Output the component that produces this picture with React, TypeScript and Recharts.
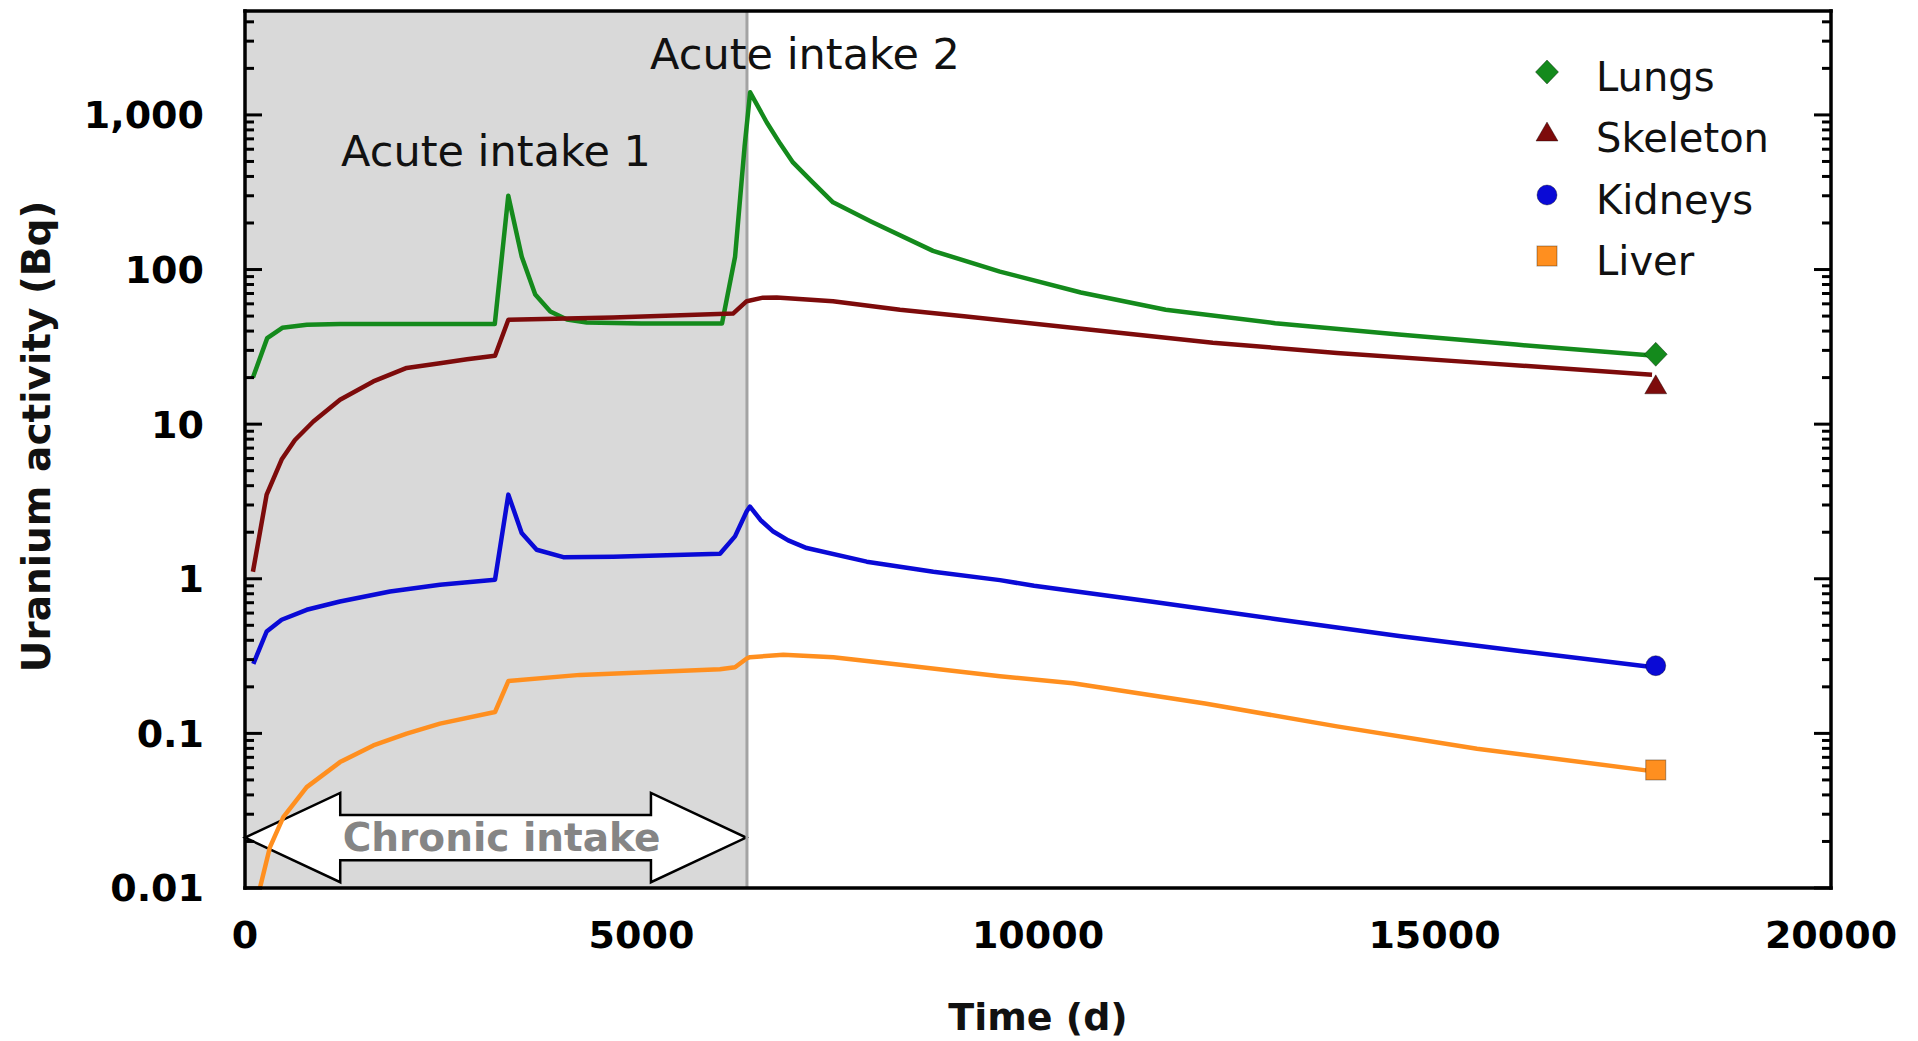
import React from 'react'
import {
  ComposedChart,
  Line,
  Scatter,
  XAxis,
  YAxis,
  ReferenceArea,
  ReferenceLine,
  ReferenceDot,
  Legend,
  Label,
} from 'recharts'

type Pt = [number, number]

// [time (d), activity (Bq)]
const LUNGS: Pt[] = [
  [100, 20], [280, 36], [470, 42], [780, 44], [1200, 44.5], [3150, 44.5],
  [3320, 300], [3490, 121], [3660, 69], [3850, 53.5], [4060, 47.5], [4310, 45.4],
  [5000, 44.8], [6015, 44.8], [6180, 121], [6300, 625], [6370, 1400], [6580, 893],
  [6750, 650], [6910, 493], [7150, 370], [7415, 272], [7900, 204], [8676, 132],
  [9520, 97], [10540, 71], [11610, 55], [12990, 45], [14550, 38], [16030, 32.7],
  [17740, 27.8],
]
const SKELETON: Pt[] = [
  [100, 1.11], [273, 3.5], [462, 5.9], [630, 7.9], [862, 10.4], [1198, 14.4],
  [1618, 18.9], [2039, 23.1], [2459, 24.8], [2800, 26.3], [3153, 27.7], [3321, 47.4],
  [4641, 48.9], [6154, 51.9], [6327, 62.4], [6532, 65.8], [6705, 66], [7415, 62.4],
  [8260, 55], [9067, 49.9], [10637, 40.9], [12204, 33.6], [13770, 28.9], [15536, 25],
  [17743, 20.9],
]
const KIDNEYS: Pt[] = [
  [105, 0.282], [273, 0.456], [462, 0.543], [778, 0.63], [1198, 0.713], [1829, 0.828],
  [2459, 0.914], [3153, 0.986], [3321, 3.5], [3489, 1.98], [3678, 1.54], [4014, 1.38],
  [4645, 1.39], [5990, 1.45], [6179, 1.88], [6327, 2.73], [6368, 2.93], [6500, 2.4],
  [6662, 2.02], [6850, 1.77], [7083, 1.58], [7840, 1.29], [8680, 1.11], [9520, 0.98],
  [9950, 0.9], [11421, 0.713], [12989, 0.55], [14552, 0.426], [16124, 0.339], [17740, 0.269],
]
const LIVER: Pt[] = [
  [120, 0.0072], [315, 0.0184], [483, 0.0287], [778, 0.0449], [1198, 0.0652],
  [1618, 0.0836], [2039, 0.0995], [2459, 0.1156], [3153, 0.1375], [3321, 0.218],
  [4224, 0.239], [5990, 0.26], [6179, 0.268], [6327, 0.305], [6368, 0.311], [6788, 0.322],
  [7419, 0.311], [8260, 0.278], [9520, 0.234], [10441, 0.211], [12106, 0.156],
  [13770, 0.111], [15536, 0.0796], [17740, 0.057],
]

// measured end points (markers)
const MEASURED = {
  lungs: [17790, 28.3] as Pt,
  skeleton: [17790, 17.7] as Pt,
  kidneys: [17790, 0.274] as Pt,
  liver: [17790, 0.058] as Pt,
}

const X_MAJOR = [0, 5000, 10000, 15000, 20000]
const X_MINOR = [1000, 2000, 3000, 4000, 6000, 7000, 8000, 9000, 11000, 12000, 13000, 14000, 16000, 17000, 18000, 19000]
const Y_MAJOR = [0.01, 0.1, 1, 10, 100, 1000]
const Y_MINOR = [
  0.02, 0.03, 0.04, 0.05, 0.06, 0.07, 0.08, 0.09,
  0.2, 0.3, 0.4, 0.5, 0.6, 0.7, 0.8, 0.9,
  2, 3, 4, 5, 6, 7, 8, 9,
  20, 30, 40, 50, 60, 70, 80, 90,
  200, 300, 400, 500, 600, 700, 800, 900,
  2000, 3000, 4000,
]

const X_DOMAIN: [number, number] = [0, 20000]
const Y_DOMAIN: [number, number] = [0.01, 4700]

const CHRONIC_END = 6330
const ARROW_BOX = { x1: 0, x2: 6320, y1: 0.0109, y2: 0.0412 }
const ANNOTATIONS = [
  { text: 'Acute intake 1', x: 3165, y: 464 },
  { text: 'Acute intake 2', x: 7062, y: 1968 },
]

const SERIES = [
  { key: 'lungs', name: 'Lungs', data: LUNGS, color: '#148a1c', marker: 'diamond' },
  { key: 'skeleton', name: 'Skeleton', data: SKELETON, color: '#7d0b0b', marker: 'triangle' },
  { key: 'kidneys', name: 'Kidneys', data: KIDNEYS, color: '#0a0ad6', marker: 'circle' },
  { key: 'liver', name: 'Liver', data: LIVER, color: '#ff8f1f', marker: 'square' },
] as const

const FONT = '"DejaVu Sans", sans-serif'
const rows = (pts: Pt[]) => pts.map(([x, y]) => ({ x, y }))
const fmtY = (v: number) => (v >= 1000 ? v.toLocaleString('en-US') : String(v))
const tickStyle = { fill: '#000', fontSize: 38, fontWeight: 700, fontFamily: FONT }

const MAJORS = new Set<number>([...X_MAJOR, ...Y_MAJOR])

// inward tick marks, drawn from the frame edge
function TickMark(props: any) {
  const { x, y, payload, side } = props
  const len = MAJORS.has(payload?.value) ? 17 : 9
  const d = {
    bottom: [x, y, x, y - len],
    top: [x, y, x, y + len],
    left: [x, y, x + len, y],
    right: [x, y, x - len, y],
  }[side as 'bottom' | 'top' | 'left' | 'right']
  return <line x1={d[0]} y1={d[1]} x2={d[2]} y2={d[3]} stroke="#000" strokeWidth={3} />
}

function Marker({ kind, cx, cy, color }: { kind: string; cx: number; cy: number; color: string }) {
  const edge = { fill: color, stroke: 'rgba(0,0,0,0.35)', strokeWidth: 1 }
  if (kind === 'diamond') {
    return <polygon points={`${cx},${cy - 12} ${cx + 11.5},${cy} ${cx},${cy + 12} ${cx - 11.5},${cy}`} {...edge} />
  }
  if (kind === 'triangle') {
    return <polygon points={`${cx},${cy - 11} ${cx + 11},${cy + 8} ${cx - 11},${cy + 8}`} {...edge} />
  }
  if (kind === 'circle') return <circle cx={cx} cy={cy} r={10} {...edge} />
  return <rect x={cx - 10} y={cy - 10} width={20} height={20} {...edge} />
}

function LegendBox() {
  return (
    <div style={{ fontFamily: FONT }}>
      {SERIES.map(s => (
        <div key={s.key} style={{ display: 'flex', alignItems: 'center', height: 61.5 }}>
          <svg width={34} height={34} style={{ flexShrink: 0 }}>
            <Marker kind={s.marker} cx={17} cy={12} color={s.color} />
          </svg>
          <span style={{ marginLeft: 32, fontSize: 40, color: '#111', whiteSpace: 'nowrap' }}>{s.name}</span>
        </div>
      ))}
    </div>
  )
}

function ArrowShape(p: any) {
  const { x, y, width: w, height: h } = p
  const head = w * 0.19
  const bt = y + h * 0.247
  const bb = y + h * 0.753
  const my = y + h / 2
  const pts = [
    [x, my], [x + head, y], [x + head, bt], [x + w - head, bt], [x + w - head, y], [x + w, my],
    [x + w - head, y + h], [x + w - head, bb], [x + head, bb], [x + head, y + h],
  ].map(q => q.join(',')).join(' ')
  return (
    <g>
      <polygon points={pts} fill="#fff" stroke="#000" strokeWidth={2.5} strokeLinejoin="miter" />
      <text x={x + w / 2 + 6} y={my} textAnchor="middle" dominantBaseline="central"
        fontFamily={FONT} fontSize={39} fontWeight={700} fill="#858585">Chronic intake</text>
    </g>
  )
}

const XTitle = (p: any) => {
  const vb = p.viewBox || { x: 245, y: 888, width: 1586, height: 153 }
  return (
    <text x={vb.x + vb.width / 2} y={vb.y + 142} textAnchor="middle"
      fontFamily={FONT} fontSize={38} fontWeight={700} fill="#111">Time (d)</text>
  )
}

const YTitle = (p: any) => {
  const vb = p.viewBox || { x: 0, y: 11, width: 245, height: 877 }
  const cx = vb.x + 50
  const cy = vb.y + vb.height / 2 - 13
  return (
    <text x={cx} y={cy} transform={`rotate(-90 ${cx} ${cy})`} textAnchor="middle"
      fontFamily={FONT} fontSize={39} fontWeight={700} fill="#111">Uranium activity (Bq)</text>
  )
}

const frame = { stroke: '#000', strokeWidth: 3.5, strokeLinecap: 'square' as const }

function xTicks(id: string, orientation: 'top' | 'bottom', border = false) {
  return (
    <XAxis key={id} xAxisId={id} orientation={orientation} mirror type="number" domain={X_DOMAIN}
      allowDataOverflow ticks={[...X_MAJOR, ...X_MINOR]} interval={0} height={1} tickSize={0} tickMargin={0}
      tickLine={false} tick={<TickMark side={orientation} />} axisLine={border ? frame : false} />
  )
}

function yTicks(id: string, orientation: 'left' | 'right', border = false) {
  return (
    <YAxis key={id} yAxisId={id} orientation={orientation} mirror type="number" scale="log" domain={Y_DOMAIN}
      allowDataOverflow ticks={[...Y_MAJOR, ...Y_MINOR]} interval={0} width={1} tickSize={0} tickMargin={0}
      tickLine={false} tick={<TickMark side={orientation} />} axisLine={border ? frame : false} />
  )
}

export default function App() {
  return (
    <div style={{ width: 1918, height: 1041, background: '#fff', fontFamily: FONT }}>
      <style>{'body{margin:0;background:#fff}'}</style>
      <ComposedChart width={1918} height={1041} margin={{ top: 11, right: 87, bottom: 0, left: 0 }}>
        <ReferenceArea xAxisId="x" yAxisId="y" x1={0} x2={CHRONIC_END} fill="#d9d9d9" fillOpacity={1}
          stroke="none" ifOverflow="hidden" />
        <ReferenceLine xAxisId="x" yAxisId="y" x={CHRONIC_END} stroke="#a3a3a3" strokeWidth={3} />

        <XAxis xAxisId="x" dataKey="x" type="number" domain={X_DOMAIN} allowDataOverflow ticks={X_MAJOR}
          interval={0} height={153} tickLine={false} tickSize={0} tickMargin={33} axisLine={frame} tick={tickStyle}>
          <Label content={XTitle} />
        </XAxis>
        <YAxis yAxisId="y" dataKey="y" type="number" scale="log" domain={Y_DOMAIN} allowDataOverflow
          ticks={Y_MAJOR} interval={0} width={245} tickLine={false} tickSize={0} tickMargin={41}
          tickFormatter={fmtY} axisLine={frame} tick={tickStyle}>
          <Label content={YTitle} />
        </YAxis>

        {xTicks('xb', 'bottom')}
        {xTicks('xt', 'top', true)}
        {yTicks('yl', 'left')}
        {yTicks('yr', 'right', true)}

        <ReferenceArea xAxisId="x" yAxisId="y" x1={ARROW_BOX.x1} x2={ARROW_BOX.x2} y1={ARROW_BOX.y1}
          y2={ARROW_BOX.y2} shape={ArrowShape} ifOverflow="visible" />

        {ANNOTATIONS.map(a => (
          <ReferenceDot key={a.text} xAxisId="x" yAxisId="y" x={a.x} y={a.y} r={0} ifOverflow="visible"
            shape={(p: any) => (
              <text x={p.cx} y={p.cy} textAnchor="middle" fontFamily={FONT} fontSize={43} fill="#111">{a.text}</text>
            )} />
        ))}

        {SERIES.map(s => (
          <Line key={s.key} xAxisId="x" yAxisId="y" data={rows(s.data)} dataKey="y" name={s.name}
            type="linear" stroke={s.color} strokeWidth={4.5} strokeLinejoin="round" dot={false}
            activeDot={false} legendType="none" isAnimationActive={false} />
        ))}
        {SERIES.map(s => (
          <Scatter key={`${s.key}-m`} xAxisId="x" yAxisId="y" data={rows([MEASURED[s.key]])} dataKey="y"
            legendType="none" isAnimationActive={false}
            shape={(p: any) => <Marker kind={s.marker} cx={p.cx} cy={p.cy} color={s.color} />} />
        ))}

        <Legend layout="vertical" align="center" verticalAlign="middle"
          wrapperStyle={{ left: 1530, top: 46, width: 330, height: 250 }} content={() => <LegendBox />} />
      </ComposedChart>
    </div>
  )
}
